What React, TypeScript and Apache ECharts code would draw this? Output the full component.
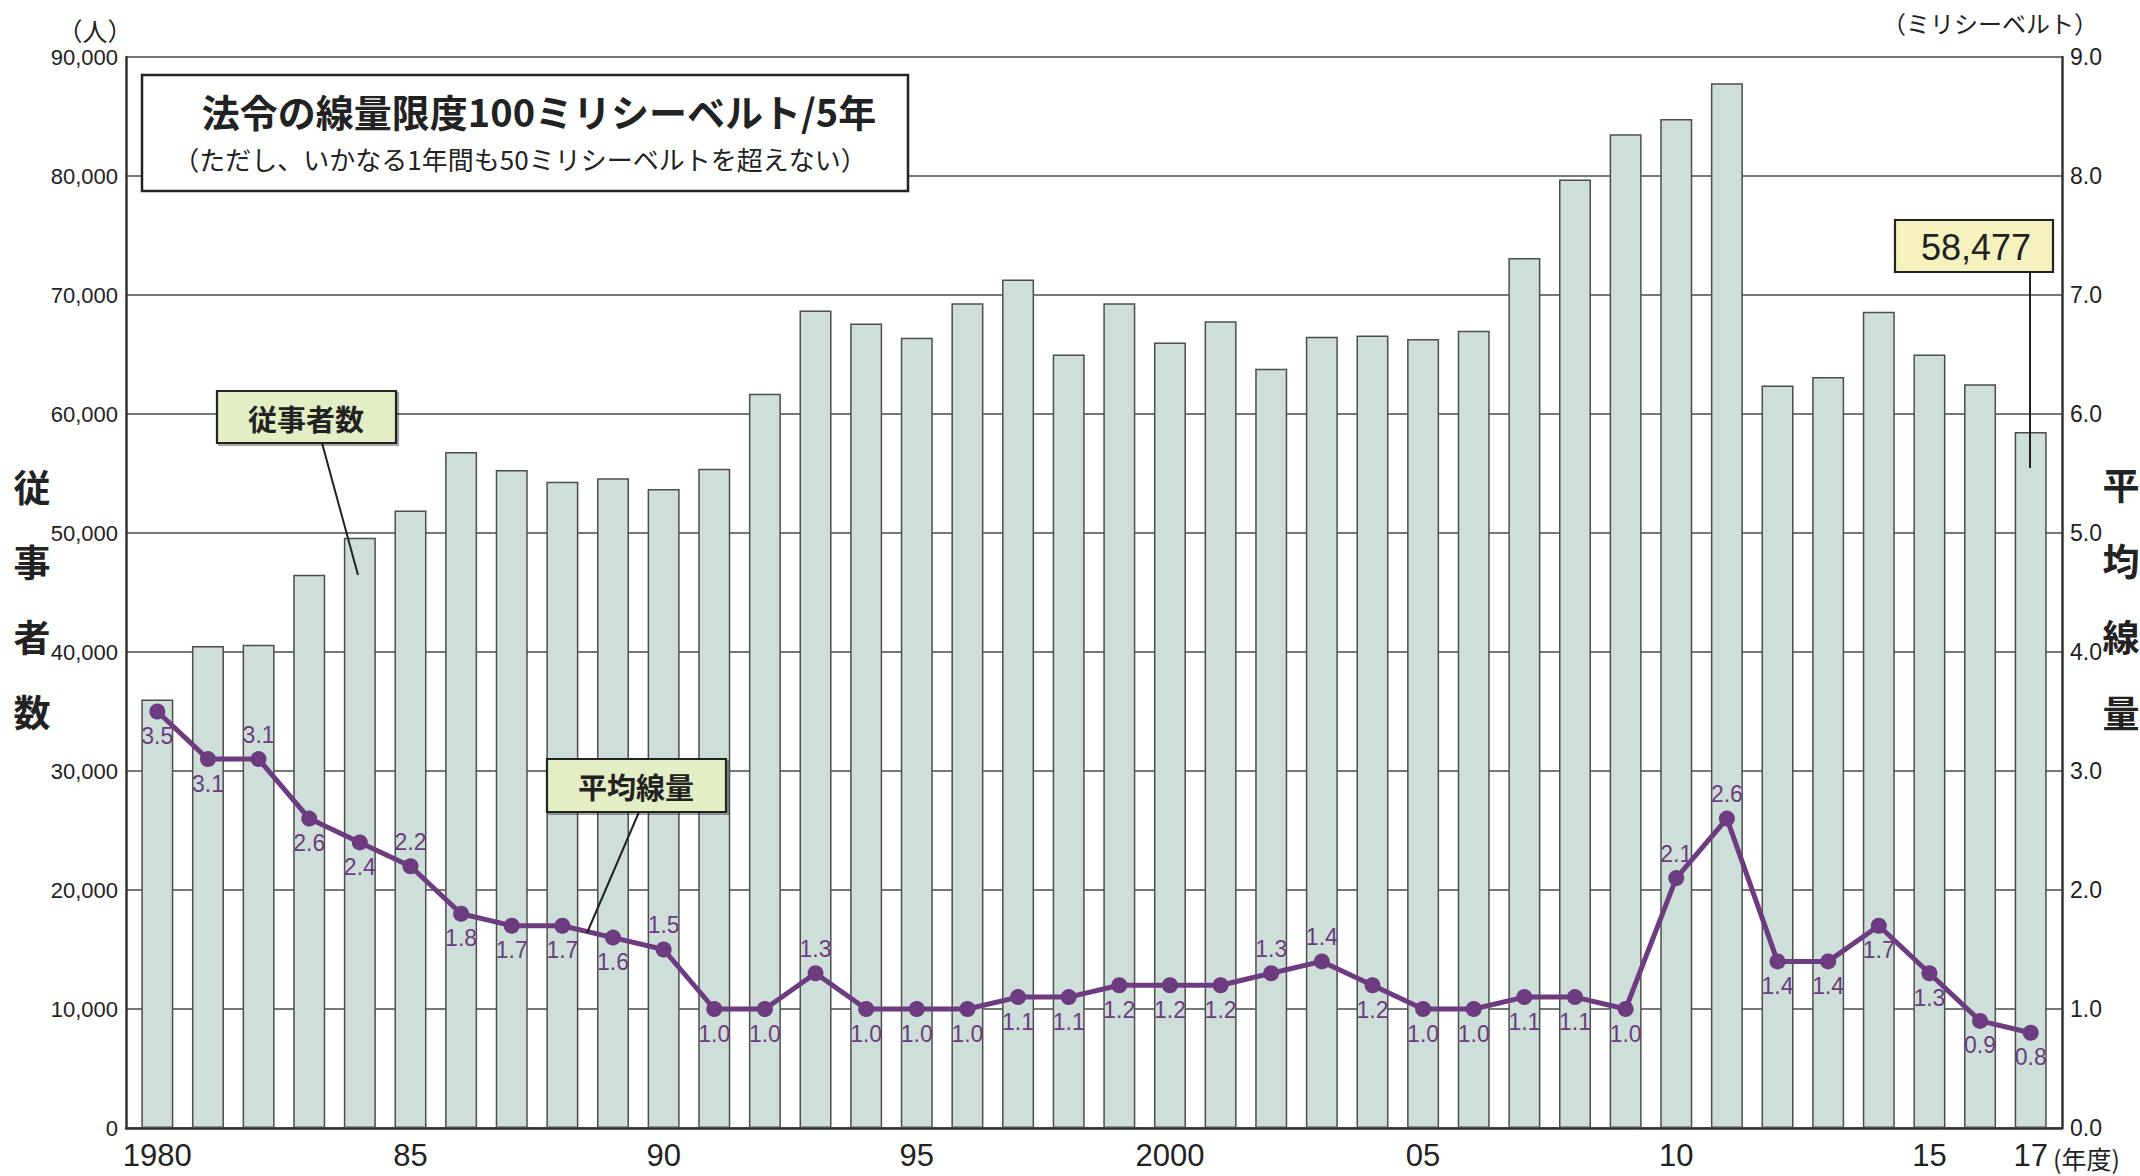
import React, { useEffect, useRef } from "react";
import * as echarts from "echarts";

const years = [
  "1980", "1981", "1982", "1983", "1984", "1985", "1986", "1987", "1988", "1989",
  "1990", "1991", "1992", "1993", "1994", "1995", "1996", "1997", "1998", "1999",
  "2000", "2001", "2002", "2003", "2004", "2005", "2006", "2007", "2008", "2009",
  "2010", "2011", "2012", "2013", "2014", "2015", "2016", "2017",
];

// 従事者数 (人)
const workers = [
  36000, 40500, 40600, 46500, 49600, 51900, 56800, 55300, 54300, 54600,
  53700, 55400, 61700, 68700, 67600, 66400, 69300, 71300, 65000, 69300,
  66000, 67800, 63800, 66500, 66600, 66300, 67000, 73100, 79700, 83500,
  84800, 87800, 62400, 63100, 68600, 65000, 62500, 58477,
];

// 平均線量 (ミリシーベルト)
const doses = [
  3.5, 3.1, 3.1, 2.6, 2.4, 2.2, 1.8, 1.7, 1.7, 1.6,
  1.5, 1.0, 1.0, 1.3, 1.0, 1.0, 1.0, 1.1, 1.1, 1.2,
  1.2, 1.2, 1.3, 1.4, 1.2, 1.0, 1.0, 1.1, 1.1, 1.0,
  2.1, 2.6, 1.4, 1.4, 1.7, 1.3, 0.9, 0.8,
];

// years whose dose label sits above the point
const labelAboveYears = ["1982", "1985", "1990", "1993", "2002", "2003", "2010", "2011"];

const xTickLabels: Record<string, string> = {
  "1980": "1980", "1985": "85", "1990": "90", "1995": "95", "2000": "2000",
  "2005": "05", "2010": "10", "2015": "15", "2017": "17",
};

const leftTicks = { min: 0, max: 90000, interval: 10000 };
const rightTicks = { min: 0, max: 9, interval: 1 };

const titleText = "法令の線量限度100ミリシーベルト/5年";
const subtitleText = "（ただし、いかなる1年間も50ミリシーベルトを超えない）";

const CJK = "'Noto Sans CJK JP', 'Noto Sans', sans-serif";
const NUM = "'Liberation Sans', Arial, sans-serif";
const PURPLE = "#6d3b80";

export default function App() {
  const ref = useRef<HTMLDivElement>(null);

  useEffect(() => {
    document.body.style.margin = "0";
    if (!ref.current) return;
    const chart = echarts.init(ref.current, undefined, { renderer: "svg" });

    const lastValue = workers[workers.length - 1];

    const option: any = {
      animation: false,
      backgroundColor: "#ffffff",
      grid: [
        { left: 126, right: 78, top: 57, bottom: 48 },
        { left: 132, right: 84, top: 57, bottom: 48 },
      ],
      xAxis: [
        {
          gridIndex: 0,
          type: "value",
          min: 0,
          max: 1,
          axisLine: { show: true, lineStyle: { color: "#333", width: 2.5 } },
          axisTick: { show: false },
          axisLabel: { show: false },
          splitLine: { show: false },
        },
        {
          gridIndex: 1,
          type: "category",
          data: years,
          axisLine: { show: false },
          axisTick: { show: false },
          splitLine: { show: false },
          axisLabel: {
            interval: (i: number, v: string) => v in xTickLabels,
            formatter: (v: string) => xTickLabels[v] ?? "",
            fontFamily: NUM,
            fontSize: 31,
            color: "#222",
            margin: 12,
          },
        },
      ],
      yAxis: [
        {
          gridIndex: 0,
          type: "value",
          position: "left",
          ...leftTicks,
          axisLine: { show: true, lineStyle: { color: "#333", width: 2.5 } },
          axisTick: { show: false },
          axisLabel: {
            formatter: (v: number) => v.toLocaleString("en-US"),
            fontFamily: NUM,
            fontSize: 22,
            color: "#222",
            margin: 8,
          },
          splitLine: { show: true, lineStyle: { color: "#4a4a4a", width: 1.6 } },
        },
        {
          gridIndex: 0,
          type: "value",
          position: "right",
          ...rightTicks,
          axisLine: { show: true, lineStyle: { color: "#333", width: 2.5 } },
          axisTick: { show: false },
          axisLabel: {
            formatter: (v: number) => v.toFixed(1),
            fontFamily: NUM,
            fontSize: 23,
            color: "#222",
            margin: 8,
          },
          splitLine: { show: false },
        },
        { gridIndex: 1, type: "value", ...leftTicks, show: false, splitLine: { show: false } },
        { gridIndex: 1, type: "value", ...rightTicks, show: false, splitLine: { show: false } },
      ],
      series: [
        {
          type: "bar",
          xAxisIndex: 1,
          yAxisIndex: 2,
          data: workers,
          barWidth: 32,
          itemStyle: { color: "#cddfd8", borderColor: "#4d4d4d", borderWidth: 1.5 },
          z: 2,
        },
        {
          type: "line",
          xAxisIndex: 1,
          yAxisIndex: 3,
          data: doses.map((v, i) => ({
            value: v,
            label: { position: labelAboveYears.includes(years[i]) ? "top" : "bottom" },
          })),
          symbol: "circle",
          symbolSize: 16,
          itemStyle: { color: PURPLE },
          lineStyle: { color: PURPLE, width: 5 },
          label: {
            show: true,
            distance: 5,
            formatter: (p: any) => Number(p.value).toFixed(1),
            fontFamily: NUM,
            fontSize: 23,
            color: PURPLE,
          },
          z: 5,
        },
      ],
      graphic: [
        // title box
        {
          type: "rect",
          z: 100,
          shape: { x: 142, y: 75, width: 766, height: 116 },
          style: { fill: "#ffffff", stroke: "#222", lineWidth: 2.5 },
        },
        {
          type: "text",
          z: 101,
          x: 539,
          y: 110,
          style: {
            text: titleText,
            fontFamily: CJK,
            fontSize: 38,
            fontWeight: "bold",
            fill: "#222",
            align: "center",
            verticalAlign: "middle",
          },
        },
        {
          type: "text",
          z: 101,
          x: 520,
          y: 158,
          style: {
            text: subtitleText,
            fontFamily: CJK,
            fontSize: 26,
            fill: "#222",
            align: "center",
            verticalAlign: "middle",
          },
        },
        // units
        {
          type: "text",
          z: 101,
          x: 95,
          y: 30,
          style: { text: "（人）", fontFamily: CJK, fontSize: 25, fill: "#222", align: "center", verticalAlign: "middle" },
        },
        {
          type: "text",
          z: 101,
          x: 1990,
          y: 22,
          style: { text: "（ミリシーベルト）", fontFamily: CJK, fontSize: 24, fill: "#222", align: "center", verticalAlign: "middle" },
        },
        {
          type: "text",
          z: 101,
          x: 2053,
          y: 1158,
          style: { text: "(年度)", fontFamily: CJK, fontSize: 25, fill: "#222", align: "left", verticalAlign: "middle" },
        },
        // axis titles (vertical)
        {
          type: "text",
          z: 101,
          x: 32,
          y: 598,
          style: {
            text: "従\n事\n者\n数",
            fontFamily: CJK,
            fontSize: 37,
            fontWeight: "bold",
            lineHeight: 75,
            fill: "#222",
            align: "center",
            verticalAlign: "middle",
          },
        },
        {
          type: "text",
          z: 101,
          x: 2121,
          y: 598,
          style: {
            text: "平\n均\n線\n量",
            fontFamily: CJK,
            fontSize: 37,
            fontWeight: "bold",
            lineHeight: 76,
            fill: "#222",
            align: "center",
            verticalAlign: "middle",
          },
        },
        // 従事者数 callout
        {
          type: "line",
          z: 100,
          shape: { x1: 322, y1: 443, x2: 358, y2: 575 },
          style: { stroke: "#222", lineWidth: 2 },
        },
        {
          type: "rect",
          z: 100,
          shape: { x: 217, y: 391, width: 179, height: 52 },
          style: { fill: "#e4eec4", stroke: "#222", lineWidth: 2.2, shadowColor: "rgba(0,0,0,0.35)", shadowOffsetX: 2, shadowOffsetY: 2 },
        },
        {
          type: "text",
          z: 101,
          x: 306,
          y: 418,
          style: { text: "従事者数", fontFamily: CJK, fontSize: 29, fontWeight: "bold", fill: "#222", align: "center", verticalAlign: "middle" },
        },
        // 平均線量 callout
        {
          type: "line",
          z: 100,
          shape: { x1: 639, y1: 812, x2: 587, y2: 933 },
          style: { stroke: "#222", lineWidth: 2 },
        },
        {
          type: "rect",
          z: 100,
          shape: { x: 547, y: 759, width: 179, height: 53 },
          style: { fill: "#e4eec4", stroke: "#222", lineWidth: 2.2, shadowColor: "rgba(0,0,0,0.35)", shadowOffsetX: 2, shadowOffsetY: 2 },
        },
        {
          type: "text",
          z: 101,
          x: 636,
          y: 786,
          style: { text: "平均線量", fontFamily: CJK, fontSize: 29, fontWeight: "bold", fill: "#222", align: "center", verticalAlign: "middle" },
        },
        // last value callout
        {
          type: "line",
          z: 100,
          shape: { x1: 2030, y1: 272, x2: 2030, y2: 468 },
          style: { stroke: "#222", lineWidth: 2 },
        },
        {
          type: "rect",
          z: 100,
          shape: { x: 1895, y: 220, width: 158, height: 52 },
          style: { fill: "#f5f2bf", stroke: "#222", lineWidth: 2.2 },
        },
        {
          type: "text",
          z: 101,
          x: 1976,
          y: 247,
          style: {
            text: lastValue.toLocaleString("en-US"),
            fontFamily: NUM,
            fontSize: 36,
            fill: "#222",
            align: "center",
            verticalAlign: "middle",
          },
        },
      ],
    };

    chart.setOption(option);
    return () => chart.dispose();
  }, []);

  return <div ref={ref} style={{ width: 2140, height: 1176 }} />;
}
